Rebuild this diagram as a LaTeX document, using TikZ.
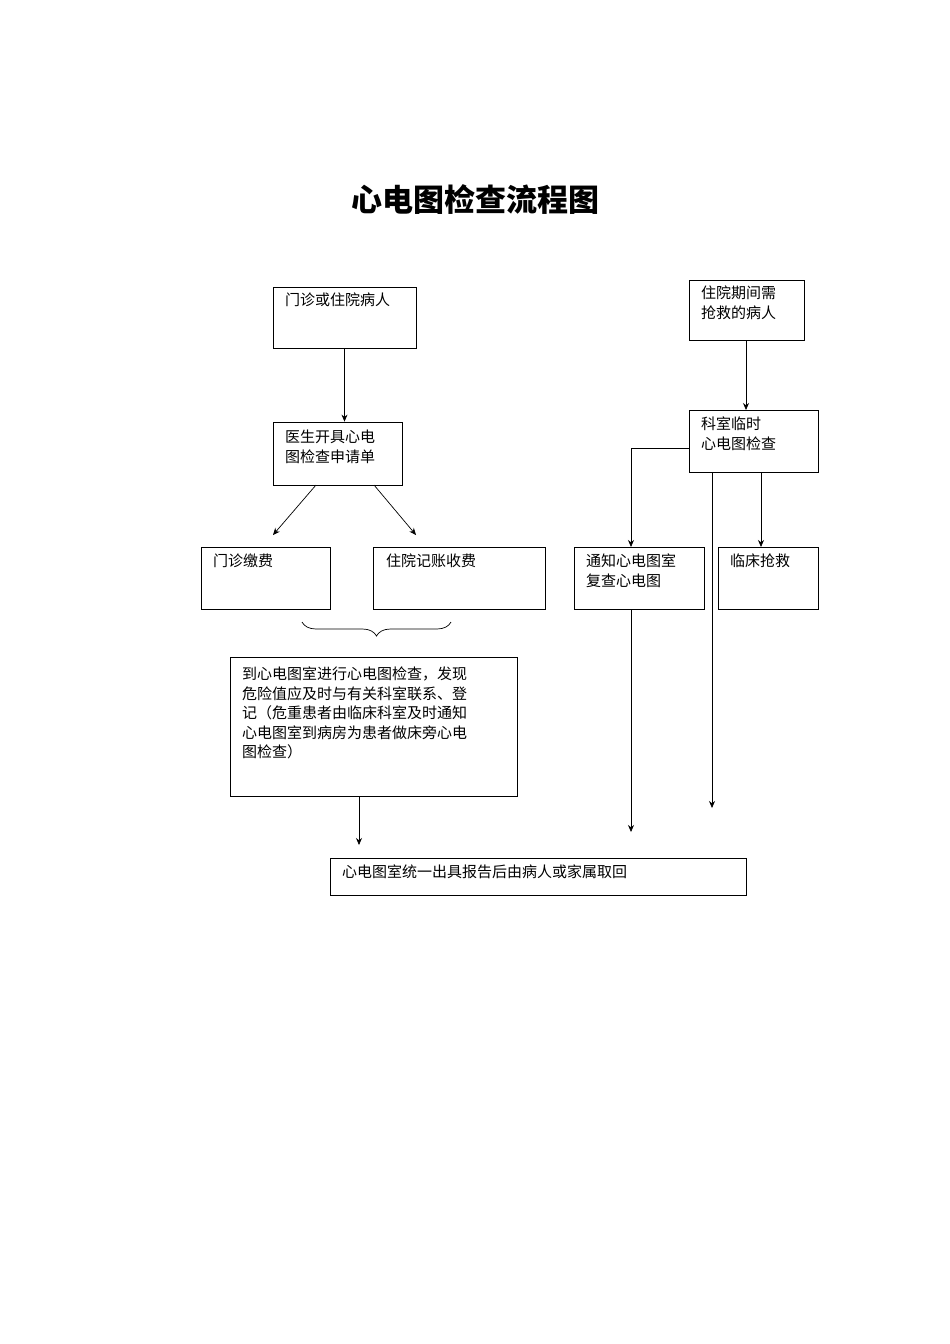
\documentclass[tikz,border=0pt]{standalone}
\usepackage{fontspec}
\setmainfont{Noto Sans CJK SC}
\usetikzlibrary{decorations.pathreplacing,arrows.meta}
\begin{document}
\begin{tikzpicture}[x=1pt,y=-1pt,
  box/.style={draw,line width=0.8pt,inner sep=0pt},
  txt/.style={anchor=north west,inner sep=0pt,align=left,font=\fontsize{15}{19.5}\selectfont},
  arr/.style={-{Stealth[length=7pt,width=6pt]},line width=0.7pt},
  ln/.style={line width=0.7pt}]
\useasboundingbox (0,0) rectangle (950,1344);
\node[font=\fontsize{31}{31}\selectfont\bfseries] (title) at (475,200) {心电图检查流程图};
\newcommand{\bx}[5]{\node[box,minimum width=#4-#2,minimum height=#5-#3] (#1) at ({(#2+#4)/2},{(#3+#5)/2}) {};}
\bx{A}{273}{287}{416}{348}
\bx{B}{273}{422}{402}{485}
\bx{C}{201}{547}{330}{609}
\bx{D}{373}{547}{545}{609}
\bx{E}{230}{657}{517}{796}
\bx{F}{330}{858}{746}{895}
\bx{G}{689}{280}{804}{340}
\bx{H}{689}{410}{818}{472}
\bx{I}{574}{547}{704}{609}
\bx{J}{718}{547}{818}{609}
\node[txt] (tA) at (285,293) {门诊或住院病人};
\node[txt] (tB) at (285,430) {医生开具心电\\图检查申请单};
\node[txt] (tC) at (213,554) {门诊缴费};
\node[txt] (tD) at (386,554) {住院记账收费};
\node[txt] (tE) at (242,667) {到心电图室进行心电图检查，发现\\危险值应及时与有关科室联系、登\\记（危重患者由临床科室及时通知\\心电图室到病房为患者做床旁心电\\图检查）};
\node[txt] (tF) at (342,865) {心电图室统一出具报告后由病人或家属取回};
\node[txt] (tG) at (701,286) {住院期间需\\抢救的病人};
\node[txt] (tH) at (701,417) {科室临时\\心电图检查};
\node[txt] (tI) at (586,554) {通知心电图室\\复查心电图};
\node[txt] (tJ) at (730,554) {临床抢救};
\coordinate (b1) at (316,485); \coordinate (c1) at (273,535);
\coordinate (b2) at (374,485); \coordinate (d1) at (416,535);
\draw[arr] (A.south) -- (A.south |- B.north);
\draw[arr] (b1) -- (c1);
\draw[arr] (b2) -- (d1);
\coordinate (br1) at (302,622); \coordinate (br2) at (451,622);
\draw[ln,decorate,decoration={brace,mirror,amplitude=14pt}] (br1) -- (br2);
\coordinate (e1) at (359,796); \coordinate (e2) at (359,845);
\draw[arr] (e1) -- (e2);
\coordinate (i1) at (631,609); \coordinate (i2) at (631,832);
\draw[arr] (i1) -- (i2);
\coordinate (h1) at (689,448); \coordinate (h2) at (631,448); \coordinate (i0) at (631,547);
\draw[arr] (h1) -- (h2) -- (i0);
\coordinate (h3) at (712,472); \coordinate (h4) at (712,808);
\draw[arr] (h3) -- (h4);
\coordinate (h5) at (761,472); \coordinate (j0) at (761,547);
\draw[arr] (h5) -- (j0);
\coordinate (g1) at (746,340); \coordinate (g2) at (746,410);
\draw[arr] (g1) -- (g2);
\end{tikzpicture}
\end{document}
